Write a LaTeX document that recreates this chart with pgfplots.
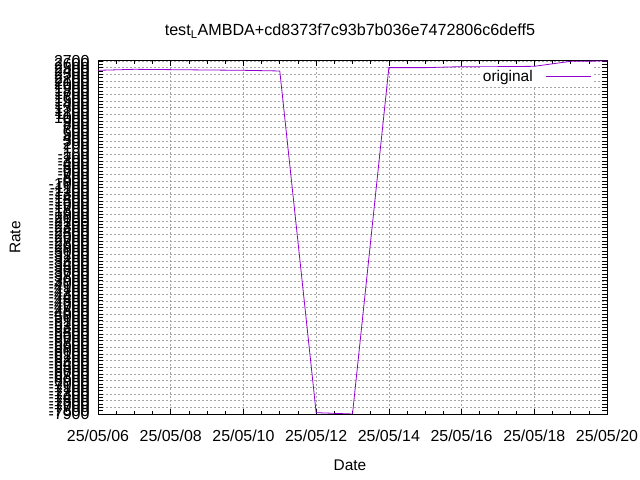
\documentclass[border=0pt]{standalone}
\usepackage{pgfplots}
\pgfplotsset{compat=1.18}
\usepackage{fontspec}
\setmainfont{Liberation Sans}
\definecolor{gpviolet}{HTML}{9400D3}
\begin{document}
\begin{tikzpicture}
\path[use as bounding box] (0,0) rectangle (640bp,480bp);
\begin{axis}[
  at={(98bp,66bp)}, anchor=south west,
  scale only axis, width=509bp, height=353bp,
  xmin=6, xmax=20, ymin=-7900, ymax=2700,
  xtick={6,8,...,20},
  xticklabels={25/05/06,25/05/08,25/05/10,25/05/12,25/05/14,25/05/16,25/05/18,25/05/20},
  minor x tick num=3,
  ytick={-7900,-7700,...,2700},
  extra y ticks={-7800,-7600,...,2600},
  extra y tick style={grid=none},
  /pgf/number format/1000 sep={},
  /pgf/number format/assume math mode=true,
  tick align=inside,
  major tick length=5bp, minor tick length=3bp,
  every tick/.style={black, line width=0.6bp},
  grid=major,
  grid style={gray!70, dash pattern=on 2bp off 2bp, line width=0.5bp},
  axis line style={black, line width=1bp},
  every tick label/.append style={font=\fontsize{16}{18}\selectfont},
  xticklabel style={yshift=-12bp},
  yticklabel style={xshift=-5bp},
  title={test\textsubscript{L}AMBDA+cd8373f7c93b7b036e7472806c6deff5},
  title style={at={(axis description cs:0.495,1.068)}, anchor=center, font=\fontsize{16.2}{18}\selectfont},
  xlabel={Date}, ylabel={Rate},
  every axis x label/.style={at={(axis description cs:0.495,-0.1445)}, anchor=center, font=\fontsize{15.5}{17}\selectfont},
  every axis y label/.style={at={(axis description cs:-0.163,0.5)}, anchor=center, rotate=90, font=\fontsize{15.5}{17}\selectfont},
  legend style={at={(0.972,0.983)}, anchor=north east, draw=none, fill=white, font=\fontsize{15.5}{17}\selectfont, inner sep=1bp},
  legend plot pos=right,
  legend cell align=right,
  legend image code/.code={\path (0bp,0bp); \draw[#1] (11bp,0bp) -- (56bp,0bp);},
]
\addplot[gpviolet, line width=0.8bp] coordinates {
(6,2420) (7,2450) (8,2440) (9,2430) (10,2420) (11,2400) (12,-7860) (13,-7900)
(14,2500) (15,2500) (16,2530) (17,2530) (18,2540) (19,2690) (20,2700)};
\addlegendentry{original}
\end{axis}
\end{tikzpicture}
\end{document}
